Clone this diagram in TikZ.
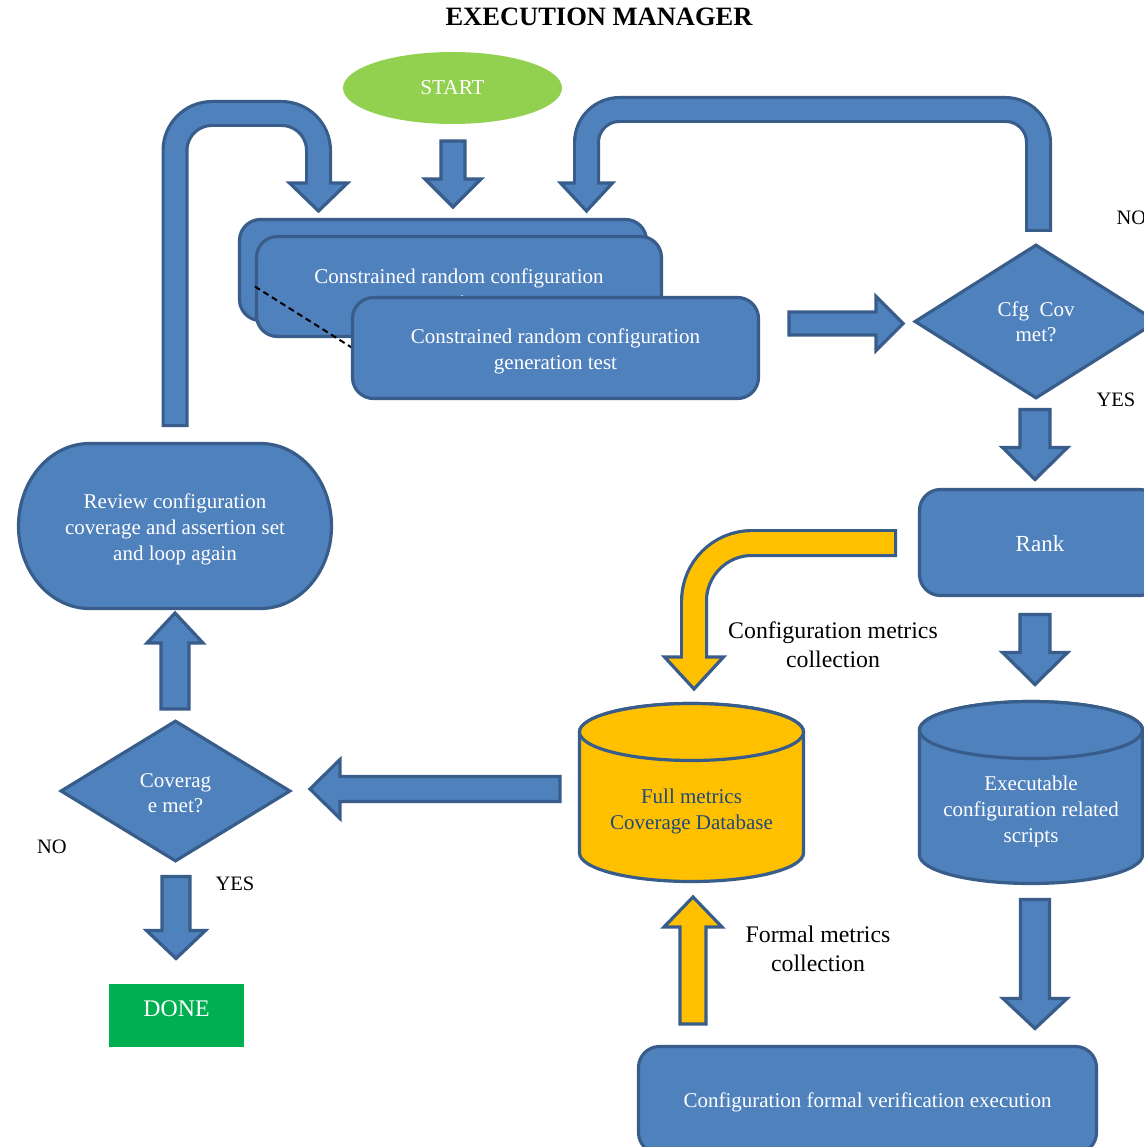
\documentclass[tikz,border=0pt]{standalone}
\usepackage{fontspec}
\setmainfont{Liberation Serif}
\usetikzlibrary{shapes.geometric}

\definecolor{boxblue}{RGB}{79,129,189}
\definecolor{edgeblue}{RGB}{56,93,138}
\definecolor{startgreen}{RGB}{146,208,80}
\definecolor{donegreen}{RGB}{0,176,80}
\definecolor{dbyellow}{RGB}{255,192,0}
\definecolor{dbtext}{RGB}{31,73,125}

\newcommand{\fs}[2]{\fontsize{#1}{#2}\selectfont}

% straight block arrow: fill, tail point, direction, length, shaft half width, head half width, head length
\newcommand{\blockarrow}[7]{%
  \draw[arrowbody, fill=#1, shift={#2}, rotate=#3]
    (0,{-#5}) -- ({#4-#7},{-#5}) -- ({#4-#7},{-#6}) -- (#4,0)
    -- ({#4-#7},#6) -- ({#4-#7},#5) -- (0,#5) -- cycle;}

\tikzset{
  shapeedge/.style={draw=edgeblue, line width=3.2pt},
  bluebox/.style={shapeedge, fill=boxblue, rounded corners=21pt, inner sep=0pt},
  decision/.style={diamond, shapeedge, fill=boxblue, text=white, align=center,
    font=\fs{21}{25}, inner sep=0pt},
  arrowbody/.style={draw=edgeblue, line width=3.2pt, line join=miter},
  remark/.style={font=\fs{23.8}{29}, align=center},
  answer/.style={font=\fs{20.5}{24}},
  whitetext/.style={text=white, align=center, font=\fs{21}{26}},
}

\begin{document}
\begin{tikzpicture}[x=1pt, y=-1pt]
\useasboundingbox (0,0) rectangle (1143,1147);
\fill[white] (0,0) rectangle (1143,1147);

% title and start
\node[font=\bfseries\fs{26.5}{30}] (title) at (599,17) {EXECUTION MANAGER};
\node[ellipse, fill=startgreen, minimum width=219pt, minimum height=72pt,
      inner sep=0pt, text=white, font=\fs{21.2}{25}] (start) at (452.5,88) {START};

% loop back from the review step (left bent arrow)
\draw[edgeblue, line width=27pt, rounded corners=37pt]
  (175,427) -- (175,113.5) -- (318.5,113.5) -- (318.5,183);
\draw[arrowbody, fill=boxblue] (289.5,183) -- (318.5,211) -- (347.5,183) -- cycle;
\draw[boxblue, line width=20.6pt, rounded corners=37pt]
  (175,423.8) -- (175,113.5) -- (318.5,113.5) -- (318.5,189);

% loop back when configuration coverage is not met (top bent arrow)
\draw[edgeblue, line width=27pt, rounded corners=33pt]
  (1038.5,232) -- (1038.5,109.5) -- (586.5,109.5) -- (586.5,183);
\draw[arrowbody, fill=boxblue] (560.5,183) -- (586.5,211) -- (612.5,183) -- cycle;
\draw[boxblue, line width=20.6pt, rounded corners=33pt]
  (1038.5,228.8) -- (1038.5,109.5) -- (586.5,109.5) -- (586.5,189);

% arrow from start
\blockarrow{boxblue}{(453,141)}{-90}{66}{12}{28}{28}

% stacked generation test boxes
\node[bluebox, minimum width=407pt, minimum height=101pt] (gen1) at (443,270) {};
\node[bluebox, minimum width=405pt, minimum height=100pt] (gen2) at (459,286.5) {};
\node[whitetext] (gen2text) at (459,291.5)
  {Constrained random configuration\\generation test};
\coordinate (gen3west) at (352.5,348);
\draw[dashed, dash pattern=on 6pt off 4pt, line width=2pt] (gen2.west) -- (gen3west);
\node[bluebox, minimum width=406pt, minimum height=101pt] (gen3) at (555.5,348) {};
\node[whitetext] (gen3text) at (555.5,351)
  {Constrained random configuration\\generation test};

% arrow to configuration coverage check
\blockarrow{boxblue}{(789,323.5)}{0}{114}{11.5}{27}{27}

\node[decision, minimum width=243pt, minimum height=154pt] (cfgcov) at (1036,321.5)
  {Cfg\ \ Cov\\met?};
\node[answer, anchor=west] (cfgno) at (1113,218) {NO};
\node[answer] (cfgyes) at (1116,400) {YES};

\blockarrow{boxblue}{(1035,409.5)}{-90}{70}{15}{32.5}{32}

\node[bluebox, minimum width=241pt, minimum height=106pt] (rank) at (1040,542.5) {};
\node[whitetext, font=\fs{23}{27}] (ranktext) at (1040,543.5) {Rank};

\blockarrow{boxblue}{(1035,614.5)}{-90}{70}{15}{32.5}{32}

% executable scripts store
\draw[shapeedge, fill=boxblue] (919.5,730) -- (919.5,855)
  arc[start angle=180, end angle=360, x radius=111.5pt, y radius=28.5pt]
  -- (1142.5,730)
  arc[start angle=0, end angle=180, x radius=111.5pt, y radius=28.5pt] -- cycle;
\draw[shapeedge, fill=boxblue] (1031,730) ellipse[x radius=111.5pt, y radius=28.5pt];
\node[whitetext] (scripts) at (1031,811) {Executable\\configuration related\\scripts};

\blockarrow{boxblue}{(1035,899.5)}{-90}{129}{14.5}{32}{30}

\node[bluebox, minimum width=458pt, minimum height=107pt] (fv) at (867.5,1100) {};
\node[whitetext] (fvtext) at (867.5,1102) {Configuration formal verification execution};

% configuration metrics collection (yellow bent arrow)
\draw[edgeblue, line width=28pt, rounded corners=58pt]
  (897,543) -- (694,543) -- (694,657);
\draw[arrowbody, fill=dbyellow] (664.5,657) -- (694,689) -- (723.5,657) -- cycle;
\draw[dbyellow, line width=21.6pt, rounded corners=58pt]
  (893.8,543) -- (694,543) -- (694,663);
\node[remark] (cfglabel) at (833,645) {Configuration metrics\\collection};

% coverage database
\draw[shapeedge, fill=dbyellow] (579.5,732) -- (579.5,853)
  arc[start angle=180, end angle=360, x radius=112pt, y radius=28.5pt]
  -- (803.5,732)
  arc[start angle=0, end angle=180, x radius=112pt, y radius=28.5pt] -- cycle;
\draw[shapeedge, fill=dbyellow] (691.5,732) ellipse[x radius=112pt, y radius=28.5pt];
\node[text=dbtext, align=center, font=\fs{21}{26}] (db) at (691.5,811)
  {Full metrics\\Coverage Database};

% formal metrics collection
\blockarrow{dbyellow}{(693,1024)}{90}{127}{13}{29}{30}
\node[remark] (formlabel) at (818,949) {Formal metrics\\collection};

% database to overall coverage check
\blockarrow{boxblue}{(560,789)}{180}{250}{12.5}{29.5}{30}

\node[decision, minimum width=230pt, minimum height=141pt] (cov) at (175.5,791) {};
\node[whitetext, font=\fs{21}{25}] (covtext) at (175.5,793) {Coverag\\e met?};
\node[answer] (covno) at (52,847) {NO};
\node[answer] (covyes) at (235,884) {YES};

\blockarrow{boxblue}{(175,709)}{90}{96}{14}{28}{30}

% review step
\draw[shapeedge, fill=boxblue] (89.5,443.5) -- (260.5,443.5)
  arc[start angle=90, end angle=-90, x radius=71pt, y radius=82.5pt]
  -- (89.5,608.5)
  arc[start angle=270, end angle=90, x radius=71pt, y radius=82.5pt] -- cycle;
\node[whitetext] (review) at (175,529)
  {Review configuration\\coverage and assertion set\\and loop again};

\blockarrow{boxblue}{(176,876.5)}{-90}{82}{14}{29.5}{28}

\node[fill=donegreen, minimum width=135pt, minimum height=63pt, inner sep=0pt,
      text=white, font=\fs{23.8}{28}, text depth=14pt] (done) at (176.5,1015.5) {DONE};
\end{tikzpicture}
\end{document}
